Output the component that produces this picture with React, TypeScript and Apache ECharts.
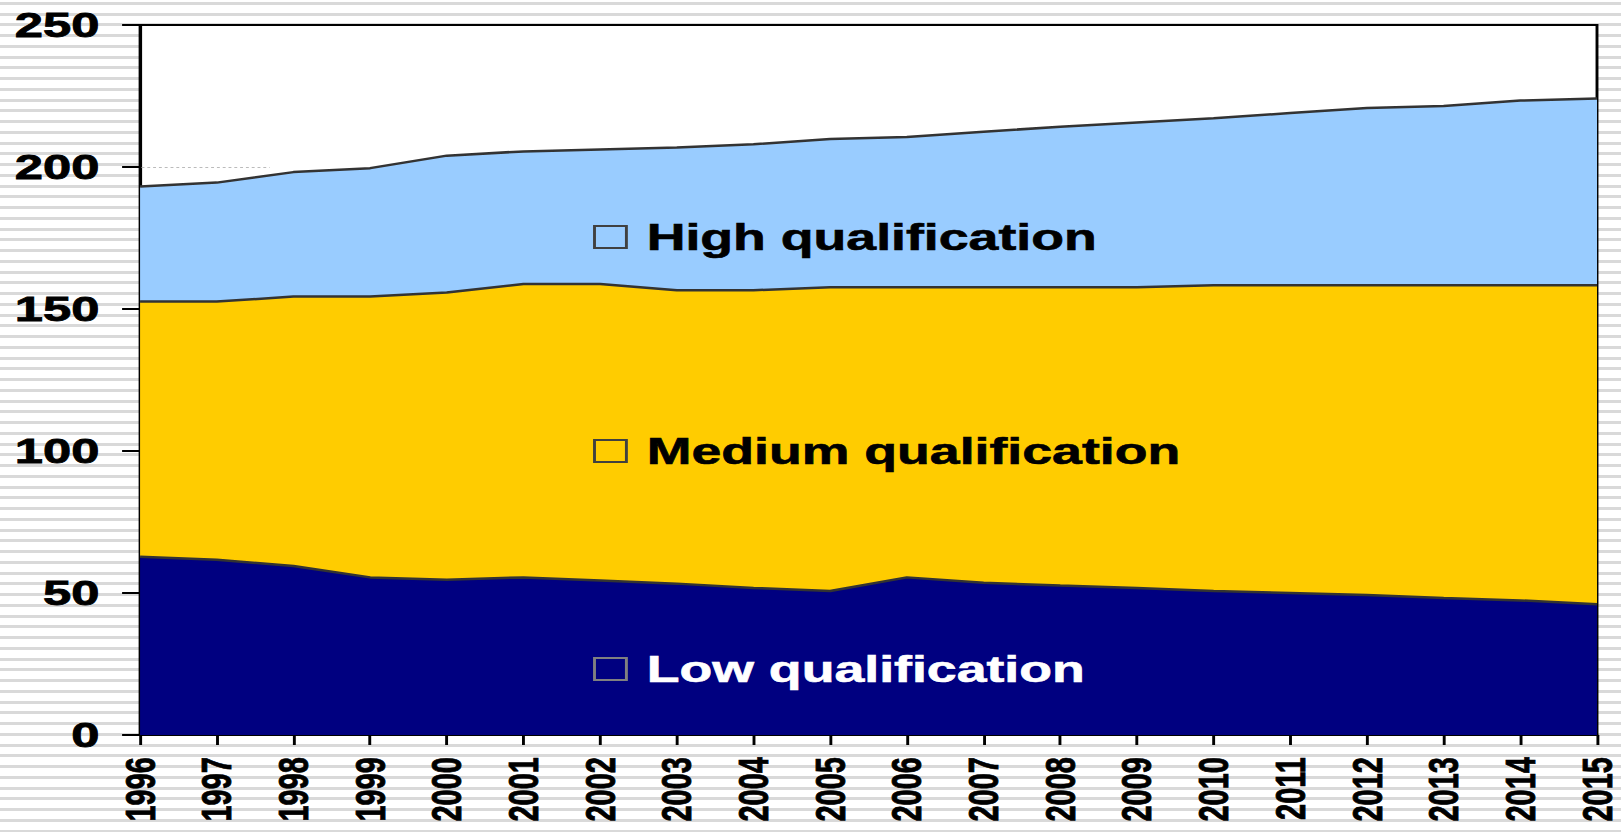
import React, { useEffect, useRef } from "react";
import * as echarts from "echarts";

const years = ["1996","1997","1998","1999","2000","2001","2002","2003","2004","2005","2006","2007","2008","2009","2010","2011","2012","2013","2014","2015"];
const lowQual = [62.8, 61.7, 59.5, 55.5, 54.7, 55.5, 54.4, 53.3, 51.8, 50.7, 55.5, 53.6, 52.6, 51.8, 50.7, 50.0, 49.3, 48.2, 47.4, 46.0];
const mediumQual = [89.8, 90.9, 94.9, 98.9, 101.1, 103.3, 104.4, 103.3, 104.8, 107.0, 102.2, 104.1, 105.1, 105.9, 107.7, 108.4, 109.1, 110.2, 111.0, 112.4];
const highQual = [40.5, 41.9, 43.8, 45.2, 48.2, 46.7, 47.4, 50.3, 51.4, 52.2, 52.9, 54.7, 56.5, 58.0, 58.8, 60.6, 62.4, 63.1, 65.0, 65.7];
const seriesNames = ["Low qualification", "Medium qualification", "High qualification"];

const SX = 1.45;
const W = 1621 / SX;
const H = 832;
const FONT = '"Liberation Sans", Arial, sans-serif';

export default function App() {
  const ref = useRef<HTMLDivElement>(null);
  useEffect(() => {
    if (!ref.current) return;
    const chart = echarts.init(ref.current, null, { renderer: "svg", width: W, height: H });
    const lineStyle = { color: "#333333", width: 2.5 };
    const legendItem = (label: string, cy: number, textColor: string, boxColor: string) => [
      {
        type: "rect",
        shape: { x: 410, y: cy - 11, width: 22, height: 22 },
        style: { fill: "none", stroke: boxColor, lineWidth: 2 },
        z: 100,
      },
      {
        type: "text",
        x: 446,
        y: cy,
        style: {
          text: label,
          fill: textColor,
          fontSize: 37,
          fontWeight: "bold",
          fontFamily: FONT,
          verticalAlign: "middle",
          align: "left",
          stroke: textColor,
          lineWidth: 0.6,
        },
        z: 100,
      },
    ];
    chart.setOption({
      animation: false,
      backgroundColor: "transparent",
      grid: {
        left: 96.6,
        right: W - 1597 / SX,
        top: 25,
        bottom: H - 735,
        show: true,
        backgroundColor: "#ffffff",
        borderColor: "#000000",
        borderWidth: 2,
      },
      xAxis: {
        type: "category",
        data: years,
        boundaryGap: false,
        axisLine: { lineStyle: { color: "#000", width: 2 } },
        axisTick: { show: true, length: 10, lineStyle: { color: "#000", width: 2 } },
        axisLabel: {
          rotate: 90,
          margin: 22,
          fontSize: 29,
          fontWeight: "bold",
          fontFamily: FONT,
          color: "#000",
          interval: 0,
          textBorderColor: "#000",
          textBorderWidth: 0.6,
        },
        splitLine: { show: false },
      },
      yAxis: {
        type: "value",
        min: 0,
        max: 250,
        interval: 50,
        axisLine: { show: true, lineStyle: { color: "#000", width: 2 } },
        axisTick: { show: true, length: 12.4, lineStyle: { color: "#000", width: 2 } },
        axisLabel: {
          margin: 28,
          fontSize: 35,
          fontWeight: "bold",
          fontFamily: FONT,
          color: "#000",
          textBorderColor: "#000",
          textBorderWidth: 0.8,
        },
        splitLine: { show: false },
      },
      series: [
        {
          name: seriesNames[0],
          type: "line",
          stack: "total",
          data: lowQual,
          symbol: "none",
          lineStyle,
          areaStyle: { color: "#000080", opacity: 1 },
        },
        {
          name: seriesNames[1],
          type: "line",
          stack: "total",
          data: mediumQual,
          symbol: "none",
          lineStyle,
          areaStyle: { color: "#FFCC00", opacity: 1 },
        },
        {
          name: seriesNames[2],
          type: "line",
          stack: "total",
          data: highQual,
          symbol: "none",
          lineStyle,
          areaStyle: { color: "#99CCFF", opacity: 1 },
        },
      ],
      graphic: [
        {
          type: "line",
          shape: { x1: 97.6, y1: 167.5, x2: 186, y2: 167.5 },
          style: { stroke: "#bbbbbb", lineWidth: 1, lineDash: [2, 2] },
          z: 50,
        },
        ...legendItem(seriesNames[2], 237, "#000000", "#404040"),
        ...legendItem(seriesNames[1], 451, "#000000", "#404040"),
        ...legendItem(seriesNames[0], 669, "#ffffff", "#808080"),
      ],
    });
    return () => chart.dispose();
  }, []);

  return (
    <div
      style={{
        position: "fixed",
        left: 0,
        top: 0,
        width: 1621,
        height: 832,
        overflow: "hidden",
        background:
          "repeating-linear-gradient(to bottom, #ffffff 0px, #ffffff 1.8px, #d9d9d9 1.8px, #d9d9d9 4.8px, #ffffff 4.8px, #ffffff 10.75px)",
      }}
    >
      <div
        ref={ref}
        style={{
          width: W,
          height: H,
          transform: `scaleX(${SX})`,
          transformOrigin: "0 0",
        }}
      />
    </div>
  );
}
